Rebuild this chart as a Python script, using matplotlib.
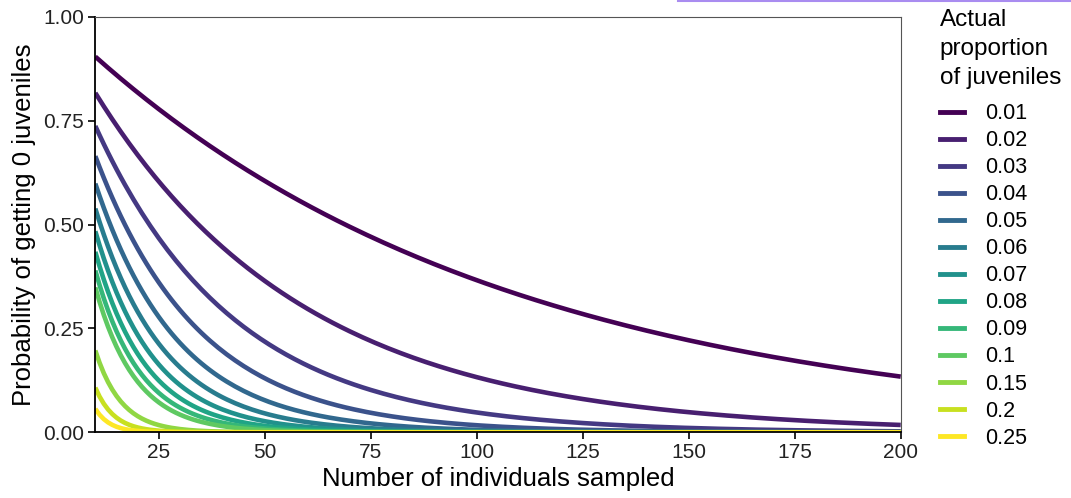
import numpy as np
import matplotlib.pyplot as plt
from matplotlib.lines import Line2D

plt.rcParams['font.family'] = ['Liberation Sans', 'DejaVu Sans']

# Actual proportion of juveniles in the population (one curve each)
proportions = [0.01, 0.02, 0.03, 0.04, 0.05, 0.06, 0.07, 0.08, 0.09, 0.1, 0.15, 0.2, 0.25]
prop_labels = ["0.01", "0.02", "0.03", "0.04", "0.05", "0.06", "0.07", "0.08", "0.09",
               "0.1", "0.15", "0.2", "0.25"]
# Number of individuals sampled
sample_sizes = np.arange(10, 201)

x_ticks = [25, 50, 75, 100, 125, 150, 175, 200]
y_ticks = [0.0, 0.25, 0.5, 0.75, 1.0]
y_tick_labels = ["0.00", "0.25", "0.50", "0.75", "1.00"]

colors = plt.cm.viridis(np.linspace(0, 1, len(proportions)))

fig = plt.figure(figsize=(10.71, 4.98), dpi=100)
ax = fig.add_axes([0.089, 0.132, 0.752, 0.834])

for p, c in zip(proportions, colors):
    # probability that a sample of size n contains no juveniles
    prob_zero = (1 - p) ** sample_sizes
    ax.plot(sample_sizes, prob_zero, color=c, lw=3.3, solid_capstyle='butt')

ax.set_xlim(10, 200)
ax.set_ylim(0, 1)
ax.set_xticks(x_ticks)
ax.set_xticklabels([str(t) for t in x_ticks])
ax.set_yticks(y_ticks)
ax.set_yticklabels(y_tick_labels)
ax.tick_params(labelsize=15, length=5, width=1.2, color='black', labelcolor='#222222', pad=3)

ax.spines['left'].set_linewidth(1.3)
ax.spines['bottom'].set_linewidth(1.3)
ax.spines['top'].set_color('#555555')
ax.spines['right'].set_color('#555555')
ax.spines['top'].set_linewidth(0.8)
ax.spines['right'].set_linewidth(0.8)

ax.set_xlabel("Number of individuals sampled", fontsize=18.5, labelpad=3)
ax.set_ylabel("Probability of getting 0 juveniles", fontsize=18.5, labelpad=5)

# legend title drawn separately so the gap to the keys can match
fig.text(0.8775, 0.982, "Actual\nproportion\nof juveniles", fontsize=17.5,
         ha='left', va='top', linespacing=1.4)

handles = [Line2D([0], [0], color=c, lw=3.5) for c in colors]
leg = fig.legend(handles, prop_labels, loc='upper left',
                 bbox_to_anchor=(0.870, 0.81), frameon=False,
                 fontsize=15.5, handlelength=1.1, handletextpad=1.0,
                 labelspacing=0.28, borderaxespad=0)

# thin purple border strip at the top edge of the screenshot
fig.add_artist(Line2D([0.633, 1.0], [0.998, 0.998], color='#a98cf0', lw=1.5,
                      transform=fig.transFigure))

fig.savefig("out.png", dpi=100)
